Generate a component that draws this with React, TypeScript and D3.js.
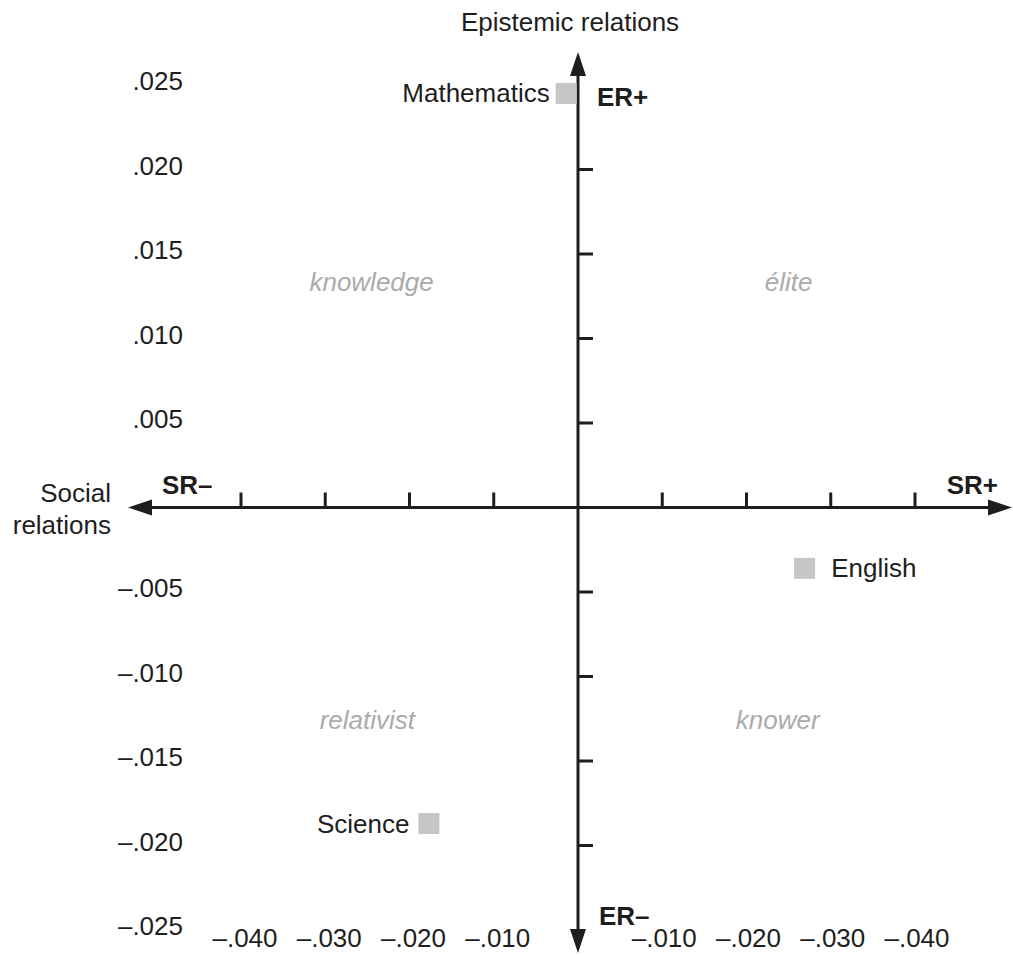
import React from "react";
import * as d3 from "d3";

const subjects = ["Mathematics", "English", "Science"];
const srValues = [-0.0014, 0.0269, -0.0177];
const erValues = [0.0245, -0.0036, -0.0187];

const xTickValues = [-0.04, -0.03, -0.02, -0.01, 0.01, 0.02, 0.03, 0.04];
const xTickLabels = ["–.040", "–.030", "–.020", "–.010", "–.010", "–.020", "–.030", "–.040"];
const yTickValues = [0.025, 0.02, 0.015, 0.01, 0.005, -0.005, -0.01, -0.015, -0.02, -0.025];
const yTickLabels = [".025", ".020", ".015", ".010", ".005", "–.005", "–.010", "–.015", "–.020", "–.025"];
const quadrantNames = ["knowledge", "élite", "relativist", "knower"];
const quadrantSR = [-0.0245, 0.025, -0.025, 0.0237];
const quadrantER = [0.0128, 0.0128, -0.0131, -0.0131];

const W = 1013;
const H = 955;
const FONT = "'Liberation Sans', Arial, Helvetica, sans-serif";
const INK = "#1e1e1e";
const FS = 26;

export default function App() {
  const x = d3.scaleLinear().domain([-0.04, 0.04]).range([241, 915]);
  const y = d3.scaleLinear().domain([-0.025, 0.025]).range([930, 85]);
  const x0 = x(0);
  const y0 = y(0);
  const left = 128, right = 1012, top = 52, bottom = 953;
  const ah = 24, aw = 8;
  const sq = 21;

  return (
    <svg width={W} height={H} style={{ position: "absolute", left: 0, top: 0, background: "#fff" }}
      fontFamily={FONT}>
      <rect x={0} y={0} width={W} height={H} fill="#fff" />
      {/* axes */}
      <line x1={left + ah - 2} x2={right - ah + 2} y1={y0} y2={y0} stroke={INK} strokeWidth={3} />
      <line x1={x0} x2={x0} y1={top + ah - 2} y2={bottom - ah + 2} stroke={INK} strokeWidth={3} />
      <path d={`M${left},${y0} L${left + ah},${y0 - aw} L${left + ah},${y0 + aw} Z`} fill={INK} />
      <path d={`M${right},${y0} L${right - ah},${y0 - aw} L${right - ah},${y0 + aw} Z`} fill={INK} />
      <path d={`M${x0},${top} L${x0 - aw},${top + ah} L${x0 + aw},${top + ah} Z`} fill={INK} />
      <path d={`M${x0},${bottom} L${x0 - aw},${bottom - ah} L${x0 + aw},${bottom - ah} Z`} fill={INK} />
      {/* x ticks */}
      {xTickValues.map((v, i) => (
        <g key={"xt" + i}>
          <line x1={x(v)} x2={x(v)} y1={y0} y2={y0 - 15} stroke={INK} strokeWidth={3} />
          <text x={x(v) + (v < 0 ? 4 : 2)} y={947} textAnchor="middle" fontSize={FS} fill={INK}>
            {xTickLabels[i]}
          </text>
        </g>
      ))}
      {/* y ticks */}
      {yTickValues.map((v, i) => (
        <g key={"yt" + i}>
          {Math.abs(v) < 0.025 && (
            <line x1={x0} x2={x0 + 15} y1={y(v)} y2={y(v)} stroke={INK} strokeWidth={3} />
          )}
          <text x={183} y={y(v) + 5} textAnchor="end" fontSize={FS} fill={INK}>
            {yTickLabels[i]}
          </text>
        </g>
      ))}
      {/* axis titles */}
      <text x={570} y={31} textAnchor="middle" fontSize={FS} fill={INK}>Epistemic relations</text>
      <text x={111} y={502} textAnchor="end" fontSize={FS} fill={INK}>Social</text>
      <text x={111} y={534} textAnchor="end" fontSize={FS} fill={INK}>relations</text>
      <text x={162} y={494} fontSize={FS} fontWeight="bold" fill={INK}>SR–</text>
      <text x={998} y={494} textAnchor="end" fontSize={FS} fontWeight="bold" fill={INK}>SR+</text>
      <text x={597} y={106} fontSize={FS} fontWeight="bold" fill={INK}>ER+</text>
      <text x={599} y={925} fontSize={FS} fontWeight="bold" fill={INK}>ER–</text>
      {/* quadrant names */}
      {quadrantNames.map((n, i) => (
        <text key={"q" + i} x={x(quadrantSR[i])} y={y(quadrantER[i])} textAnchor="middle"
          fontSize={FS} fontStyle="italic" fill="#ababab">
          {n}
        </text>
      ))}
      {/* points */}
      {subjects.map((s, i) => {
        const cx = x(srValues[i]);
        const cy = y(erValues[i]);
        const labelRight = s === "English";
        return (
          <g key={"p" + i}>
            <rect x={cx - sq / 2} y={cy - sq / 2} width={sq} height={sq} fill="#c6c6c6" />
            <text x={labelRight ? cx + sq / 2 + 16 : cx - sq / 2 - (s === "Science" ? 9 : 6)}
              y={cy + 9} textAnchor={labelRight ? "start" : "end"} fontSize={FS} fill={INK}>
              {s}
            </text>
          </g>
        );
      })}
    </svg>
  );
}
